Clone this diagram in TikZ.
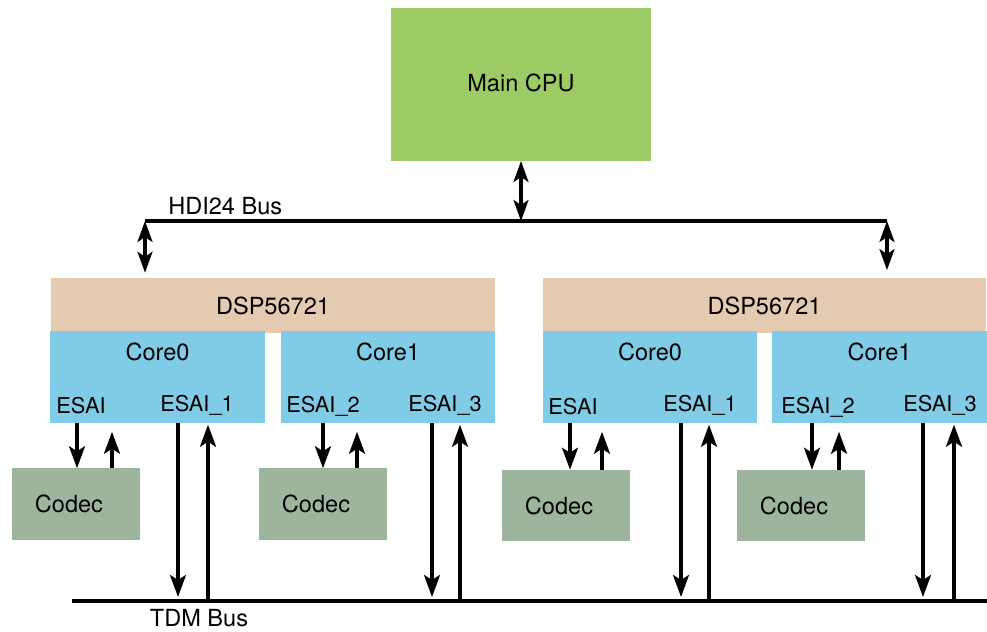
\documentclass[tikz,border=0pt]{standalone}
\usepackage{fontspec}
\setmainfont{TeX Gyre Heros}
\usetikzlibrary{arrows.meta}
\definecolor{cpugreen}{HTML}{9DCC66}
\definecolor{dsptan}{HTML}{E4CAB1}
\definecolor{coreblue}{HTML}{80CBE5}
\definecolor{codecgreen}{HTML}{9CB59C}

\begin{document}
\begin{tikzpicture}[x=0.02cm, y=-0.02cm,
    txt/.style={font=\fontsize{13.4}{16}\selectfont, inner sep=0pt},
    port/.style={font=\fontsize{12.4}{15}\selectfont, inner sep=0pt},
    box/.style={inner sep=0pt, outer sep=0pt, font=\fontsize{13.4}{16}\selectfont},
    cpu/.style={box, fill=cpugreen, minimum width=5.2cm, minimum height=3.06cm},
    dsp/.style={box, fill=dsptan, minimum width=8.87cm, minimum height=1.1cm},
    core/.style={box, fill=coreblue, minimum width=4.29cm, minimum height=1.84cm},
    codec/.style={box, fill=codecgreen, minimum width=2.56cm, minimum height=1.43cm},
    bus/.style={line width=1.8pt},
    sig/.style={line width=1.8pt, -{Stealth[length=0.44cm, width=0.32cm, inset=0.1cm]}},
    bisig/.style={line width=1.8pt, {Stealth[length=0.42cm, width=0.3cm, inset=0.1cm]}-{Stealth[length=0.42cm, width=0.3cm, inset=0.1cm]}}]
    \useasboundingbox (0,0) rectangle (987,632);
    % boxes
    \path (521,84.5) node[cpu](cpu){\raisebox{0.08cm}{Main CPU}}
        (273,305.5) node[dsp](dspL){DSP56721}
        (764.5,305.5) node[dsp](dspR){DSP56721}
        (157.5,377) node[core](lc0){}
        (388,377) node[core](lc1){}
        (650,377) node[core](rc0){}
        (879.5,377) node[core](rc1){};
    \path (76,504) node[codec](cdA){Codec\kern0.28cm}
        (323,504) node[codec](cdB){Codec\kern0.28cm}
        (566,505.5) node[codec](cdC){Codec\kern0.28cm}
        (801,505.5) node[codec](cdD){Codec\kern0.28cm};
    % core texts
    \path (lc0.north) ++(0,21) node[txt](lc0t){Core0}
        (lc1.north) ++(0,21) node[txt](lc1t){Core1}
        (rc0.north) ++(0,21) node[txt](rc0t){Core0}
        (rc1.north) ++(0,21) node[txt](rc1t){Core1};
    \path (81,406) node[port](lpA){ESAI}
        (197,405) node[port](lpB){ESAI\_1}
        (323,406) node[port](lpC){ESAI\_2}
        (445,405) node[port](lpD){ESAI\_3}
        (573,407) node[port](rpA){ESAI}
        (700,405) node[port](rpB){ESAI\_1}
        (818,407) node[port](rpC){ESAI\_2}
        (940,405) node[port](rpD){ESAI\_3};
    % buses
    \coordinate (hdiL) at (145,221);
    \coordinate (hdiR) at (887,221);
    \coordinate (tdmL) at (72,601);
    \coordinate (tdmR) at (987,601);
    \draw[bus] (hdiL) -- (hdiR);
    \draw[bus] (tdmL) -- (tdmR);
    \node[txt, anchor=west](hdit) at (168,206) {HDI24 Bus};
    \node[txt](tdmt) at (199,618) {TDM Bus};
    \draw[bisig] (cpu.south -| 521,0) -- (hdiR -| 521,0);
    \draw[bisig] (hdiL) -- ([yshift=3pt]hdiL |- dspL.north);
    \draw[bisig] (hdiR) -- ([yshift=4.5pt]hdiR |- dspR.north);
    % codec links
    \foreach \c/\d/\x/\u in {lc0/cdA/77/112, lc1/cdB/323/357, rc0/cdC/570/602, rc1/cdD/812/839} {
        \draw[sig] (\c.south -| \x,0) -- (\d.north -| \x,0);
        \draw[sig] (\d.north -| \u,0) -- ([yshift=-5pt]\c.south -| \u,0);
    }
    % tdm links
    \foreach \c/\x/\u in {lc0/178/208, lc1/432/460, rc0/681/709, rc1/923/954} {
        \draw[sig] (\c.south -| \x,0) -- ([yshift=2.3pt]tdmL -| \x,0);
        \draw[sig] (tdmL -| \u,0) -- ([yshift=-1pt]\c.south -| \u,0);
    }
\end{tikzpicture}
\end{document}
